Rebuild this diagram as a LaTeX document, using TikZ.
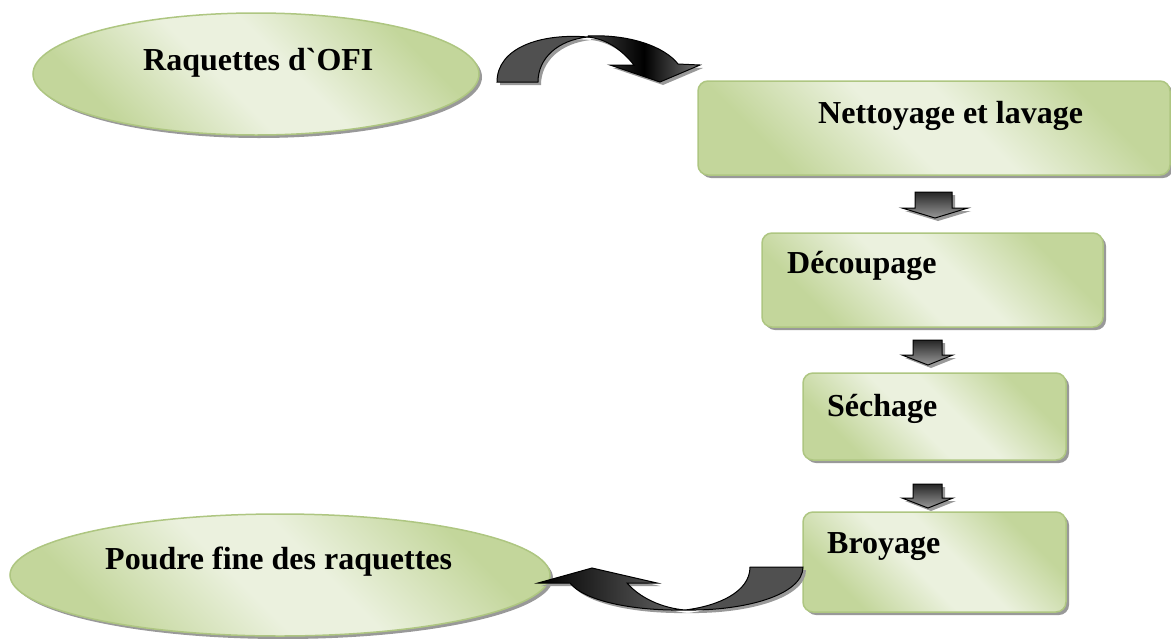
\documentclass[tikz,border=0pt]{standalone}
\usepackage{fontspec}
\setmainfont{Liberation Serif}
\usetikzlibrary{shapes.geometric,shadows}
\definecolor{gdark}{HTML}{C3D69B}
\definecolor{glight}{HTML}{EBF1DE}
\definecolor{gline}{HTML}{AEC681}
\definecolor{agray}{HTML}{505050}
\pgfdeclarehorizontalshading{greenshade}{100bp}{color(0bp)=(gdark); color(27bp)=(gdark); color(45bp)=(glight); color(55bp)=(glight); color(73bp)=(gdark); color(100bp)=(gdark)}
\newcommand{\gravechar}{\XeTeXglyph\XeTeXcharglyph"60\relax}
\tikzset{
  gshape/.style={draw=gline, line width=1.5pt, shade, shading=greenshade, shading angle=45,
    drop shadow={shadow xshift=3pt, shadow yshift=-3pt, fill=black!40, opacity=1}},
  stepbox/.style={gshape, rectangle, rounded corners=10pt, inner sep=0pt},
  endell/.style={gshape, ellipse, inner sep=0pt},
  lbl/.style={font=\fontsize{32}{38}\selectfont\bfseries, inner sep=0pt, anchor=base west},
  ashadow/.style={drop shadow={shadow xshift=3pt, shadow yshift=-3pt, fill=black!40, opacity=1}},
  blockarrow/.style={draw=black, line width=1pt, top color=black!85, bottom color=black!40, ashadow},
  flatpart/.style={draw=black, line width=1pt, fill=agray, ashadow},
  gradpart/.style={draw=black, line width=1pt, left color=black!75, right color=black!55, middle color=black, ashadow},
  gradpartb/.style={draw=black, line width=1pt, left color=black, right color=black!60, ashadow},
}
\begin{document}
\begin{tikzpicture}[x=1pt,y=-1pt]
\useasboundingbox (0,0) rectangle (1171,638);

% nodes
\node[endell, minimum width=446pt, minimum height=122pt] (src) at (256,74) {};
\node[stepbox, minimum width=472pt, minimum height=94pt] (net) at (934,128) {};
\node[stepbox, minimum width=341pt, minimum height=94pt] (dec) at (932.5,280) {};
\node[stepbox, minimum width=263pt, minimum height=87pt] (sec) at (934.5,416.5) {};
\node[stepbox, minimum width=263pt, minimum height=100pt] (bro) at (934.5,562) {};
\node[endell, minimum width=540pt, minimum height=122pt] (pou) at (280,575) {};

% labels
\node[lbl] (tsrc) at (143,70) {Raquettes d\gravechar OFI};
\node[lbl] (tnet) at (818,123) {Nettoyage et lavage};
\node[lbl] (tdec) at (787,273) {Découpage};
\node[lbl] (tsec) at (827,416) {Séchage};
\node[lbl] (tbro) at (827,553) {Broyage};
\node[lbl] (tpou) at (105,569) {Poudre fine des raquettes};

% curved arrow top (src -> net)
\path[flatpart] (497,82) -- (538,82) .. controls (538,58) and (558,40) .. (588,37)
  .. controls (540,33) and (497,48) .. (497,82) -- cycle;
\path[gradpart] (588,36) .. controls (630,34) and (665,47) .. (678,64) -- (700,65) -- (660,82)
  -- (610,65) -- (634,65) .. controls (622,50) and (607,39) .. (588,37) -- cycle;

% block arrows down
\path[blockarrow] (915,192) -- (952,192) -- (952,208) -- (968,208) -- (935,218) -- (902,208) -- (915,208) -- cycle;
\path[blockarrow] (913,340) -- (942,340) -- (942,355) -- (953,355) -- (928,365) -- (902,355) -- (913,355) -- cycle;
\path[blockarrow] (913,484) -- (942,484) -- (942,498) -- (953,498) -- (928,508) -- (902,498) -- (913,498) -- cycle;

% curved arrow bottom (bro -> pou)
\path[flatpart] (750,567) -- (803,567) .. controls (803,595) and (745,611) .. (685,610)
  .. controls (718,606) and (750,592) .. (750,567) -- cycle;
\path[gradpartb] (685,610) .. controls (630,611) and (583,600) .. (570,583) -- (538,583) -- (592,568)
  -- (657,583) -- (627,583) .. controls (640,598) and (662,608) .. (685,610) -- cycle;
\end{tikzpicture}
\end{document}
